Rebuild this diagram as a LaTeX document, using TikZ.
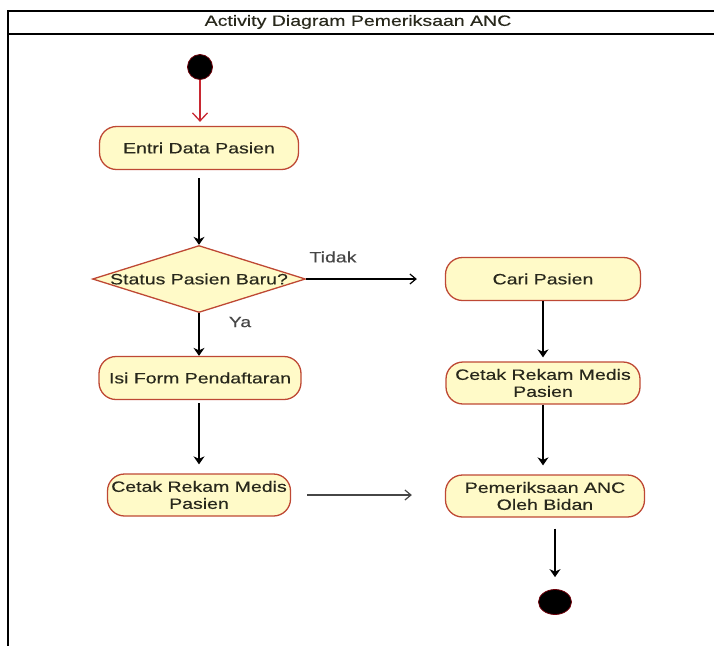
\documentclass[tikz,border=0pt]{standalone}
\usepackage{fontspec}
\setmainfont{Liberation Sans}[FakeStretch=1.3,FakeBold=0.3]
\usetikzlibrary{shapes.geometric,arrows.meta}

\definecolor{actfill}{RGB}{255,250,200}
\definecolor{actedge}{RGB}{190,72,52}
\definecolor{acttext}{RGB}{40,40,28}
\definecolor{dotedge}{RGB}{110,0,10}
\definecolor{startred}{RGB}{200,40,50}
\definecolor{flowgray}{RGB}{70,70,70}

\tikzset{
  activity/.style={draw=actedge, fill=actfill, line width=1.3pt,
    rounded corners=17pt, align=center, text=acttext, inner sep=2pt,
    font=\fontsize{15}{17}\selectfont},
  decision/.style={draw=actedge, fill=actfill, line width=1.3pt,
    diamond, inner sep=0pt},
  startdot/.style={circle, fill=black, draw=dotedge, line width=0.8pt,
    minimum size=25pt, inner sep=0pt},
  enddot/.style={ellipse, fill=black, draw=dotedge, line width=0.8pt,
    minimum width=33pt, minimum height=25pt, inner sep=0pt},
  flow/.style={line width=1.3pt, draw=black,
    -{Stealth[length=8pt,width=11pt,inset=2.5pt]}},
  openflow/.style={line width=1.2pt, draw=black,
    -{Straight Barb[length=6pt,width=10pt]}},
  startflow/.style={line width=1.3pt, draw=startred,
    -{Straight Barb[length=8pt,width=15pt]}},
  guard/.style={text=flowgray, font=\fontsize{15}{17}\selectfont},
  frameline/.style={line width=1.3pt, draw=black},
}

\begin{document}
\begin{tikzpicture}[x=1pt, y=-1pt]
  \useasboundingbox (0,0) rectangle (714,646);

  % diagram frame with its title bar
  \draw[frameline] (714,11) -- (8,11) -- (8,646);
  \draw[frameline] (8,34) -- (714,34);
  \node[font=\fontsize{15}{17}\selectfont, text=acttext] (title) at (358,22)
    {Activity Diagram Pemeriksaan ANC};

  % initial and final states
  \node[startdot] (start) at (200,67) {};
  \node[enddot] (finish) at (555,602) {};

  % left column
  \node[activity, minimum width=199pt, minimum height=43pt] (entri) at (199,148)
    {Entri Data Pasien};
  \node[decision, minimum width=213pt, minimum height=67pt] (dec) at (199,279) {};
  \node[text=acttext, font=\fontsize{15}{17}\selectfont] (dectext) at (199,279)
    {Status Pasien Baru?};
  \node[activity, minimum width=202pt, minimum height=43pt] (isi) at (200,378)
    {Isi Form Pendaftaran};
  \node[activity, minimum width=183pt, minimum height=42pt] (cetakL) at (199,495)
    {Cetak Rekam Medis\\Pasien};

  % right column
  \node[activity, minimum width=195pt, minimum height=43pt] (cari) at (543,279)
    {Cari Pasien};
  \node[activity, minimum width=194pt, minimum height=42pt] (cetakR) at (543,383)
    {Cetak Rekam Medis\\Pasien};
  \node[activity, minimum width=199pt, minimum height=42pt] (periksa) at (545,496)
    {Pemeriksaan ANC\\Oleh Bidan};

  % control flows
  \draw[startflow, shorten >=4pt] (start) -- (start |- entri.north);
  \draw[flow, shorten <=8pt] (entri.south) -- (dec.north);
  \draw[openflow, shorten >=28pt] (dec.east) -- (cari.west);
  \node[guard] (tidak) at (333,257) {Tidak};
  \draw[flow] (dec.south) -- (dec.south |- isi.north);
  \node[guard] (ya) at (240,322) {Ya};
  \draw[flow, shorten <=3pt, shorten >=9pt] (cetakL.north |- isi.south) -- (cetakL.north);
  \draw[openflow, draw=flowgray, shorten <=16pt, shorten >=33pt] (cetakL.east) -- (cetakL.east -| periksa.west);
  \draw[flow, shorten >=4pt] (cari.south) -- (cetakR.north);
  \draw[flow, shorten >=9pt] (cetakR.south) -- (cetakR.south |- periksa.north);
  \draw[flow, shorten <=11pt, shorten >=12pt] (periksa.south -| finish) -- (finish.north);
\end{tikzpicture}
\end{document}
